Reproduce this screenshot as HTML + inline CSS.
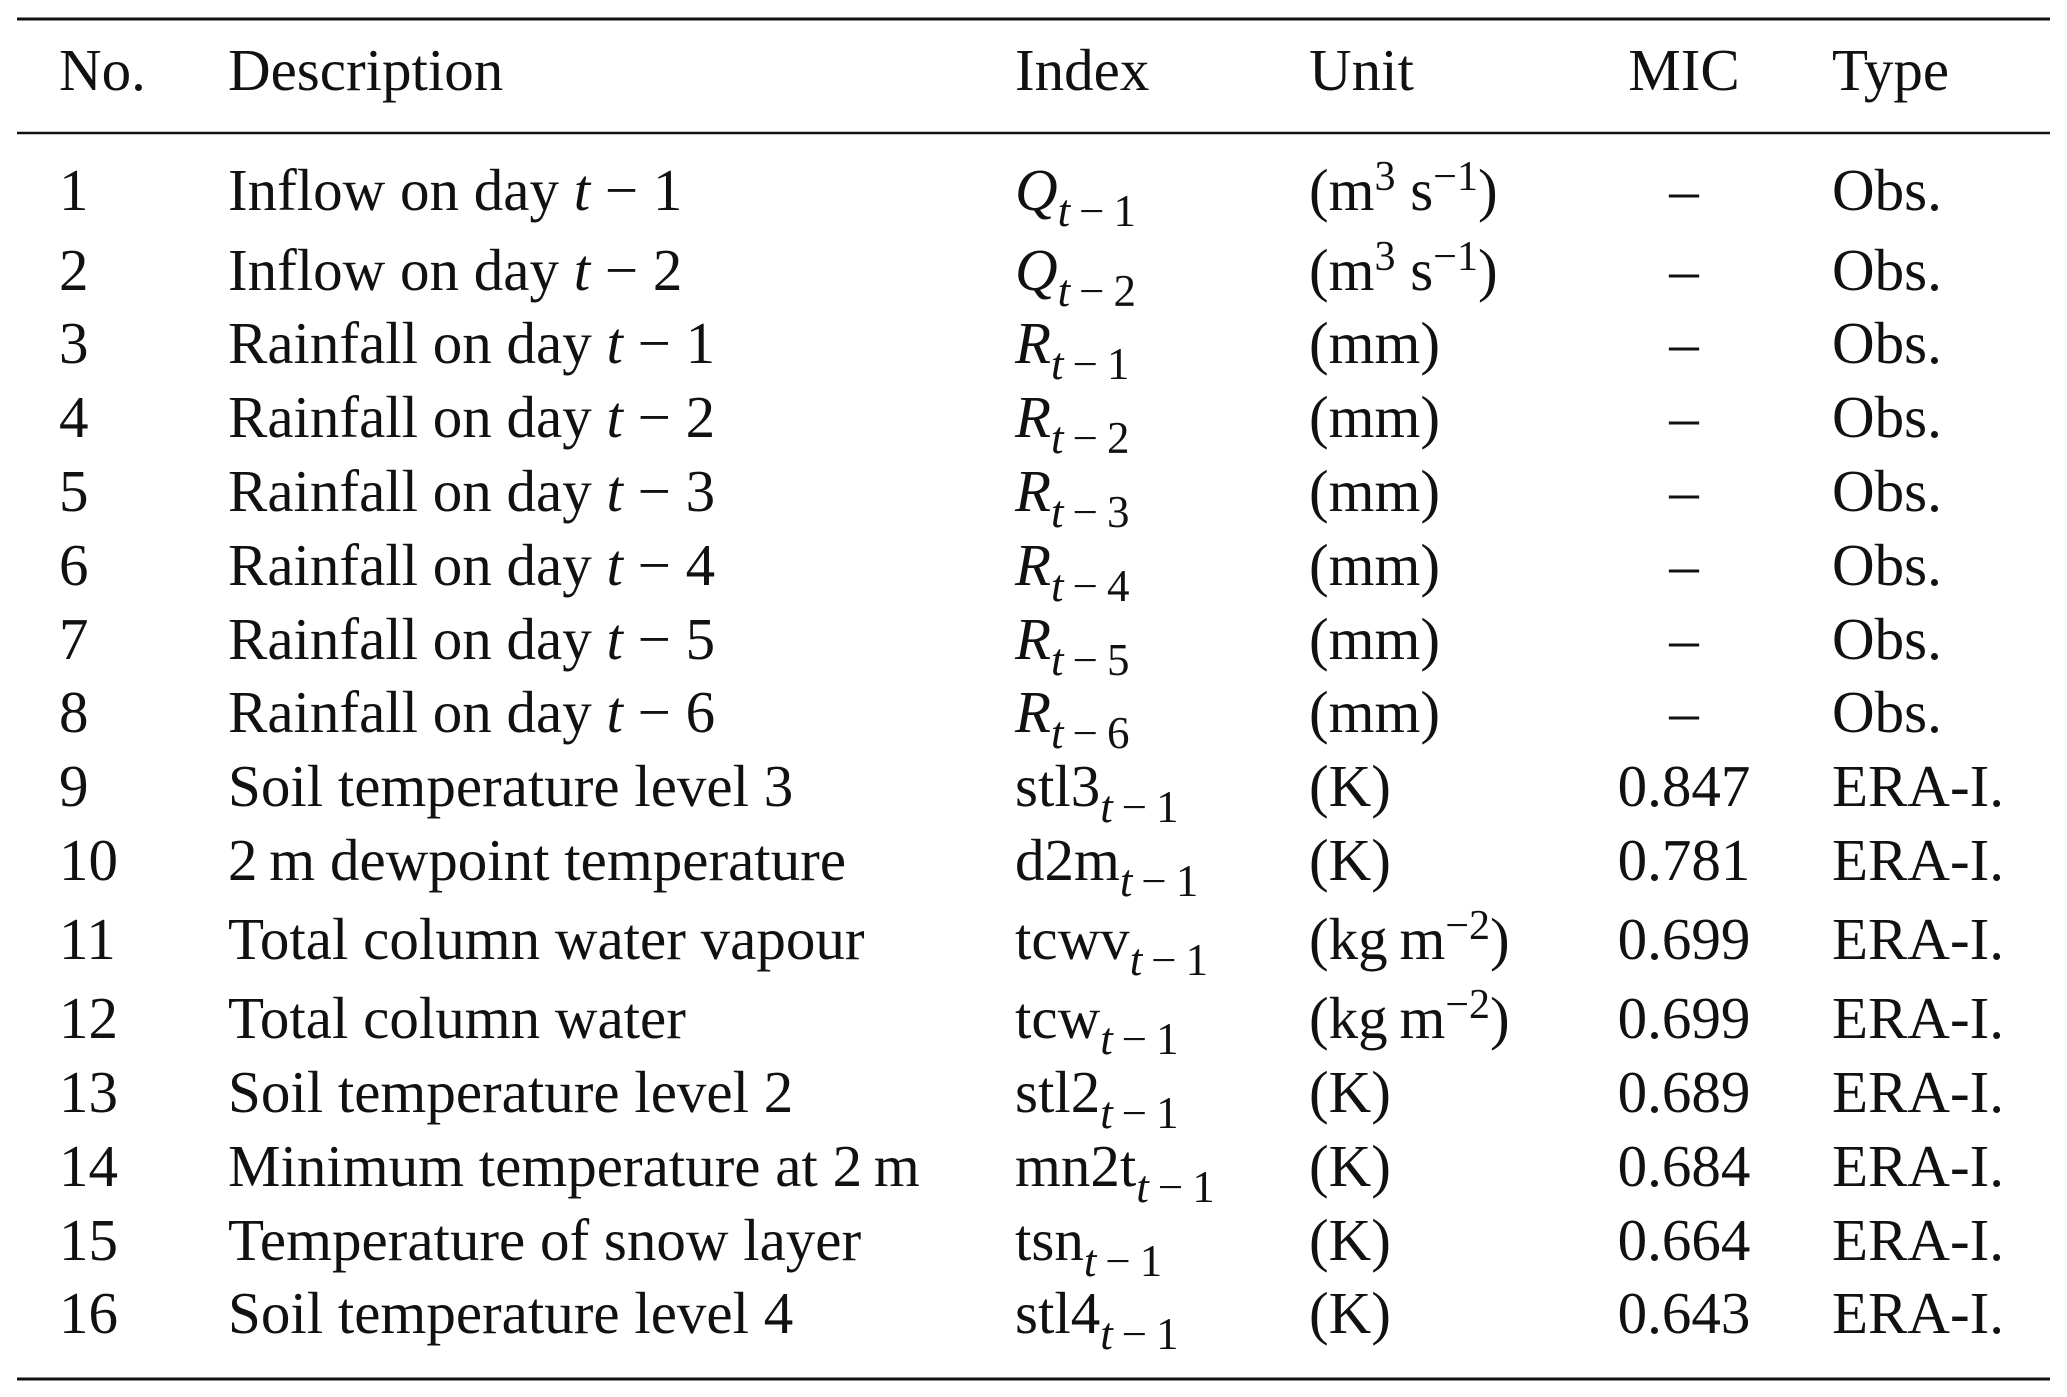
<!DOCTYPE html>
<html><head><meta charset="utf-8"><style>
html,body{margin:0;padding:0;background:#fff;}
svg{display:block;}
text{font-family:"Liberation Serif",serif;font-size:59px;fill:#111;}
.i{font-style:italic;}
</style></head><body>
<svg width="2067" height="1397" viewBox="0 0 2067 1397">
<line x1="17" y1="19" x2="2050" y2="19" stroke="#111" stroke-width="3"/>
<line x1="17" y1="133" x2="2050" y2="133" stroke="#111" stroke-width="2.5"/>
<line x1="17" y1="1379" x2="2050" y2="1379" stroke="#111" stroke-width="3"/>
<g>
<text x="59" y="90">No.</text>
<text x="228" y="90">Description</text>
<text x="1015" y="90">Index</text>
<text x="1309" y="90">Unit</text>
<text x="1684" y="90" text-anchor="middle">MIC</text>
<text x="1832" y="90">Type</text>
</g>
<g id="rows"></g>
</svg>
<script>
const nums=["1","2","3","4","5","6","7","8","9","10","11","12","13","14","15","16"];
const descs=["Inflow on day |1","Inflow on day |2","Rainfall on day |1","Rainfall on day |2","Rainfall on day |3","Rainfall on day |4","Rainfall on day |5","Rainfall on day |6","Soil temperature level 3","2\u2009m dewpoint temperature","Total column water vapour","Total column water","Soil temperature level 2","Minimum temperature at 2\u2009m","Temperature of snow layer","Soil temperature level 4"];
const idxBase=["Q","Q","R","R","R","R","R","R","stl3","d2m","tcwv","tcw","stl2","mn2t","tsn","stl4"];
const idxLag=["1","2","1","2","3","4","5","6","1","1","1","1","1","1","1","1"];
const units=["m3","m3","(mm)","(mm)","(mm)","(mm)","(mm)","(mm)","(K)","(K)","kg","kg","(K)","(K)","(K)","(K)"];
const mics=["–","–","–","–","–","–","–","–","0.847","0.781","0.699","0.699","0.689","0.684","0.664","0.643"];
const types=["Obs.","Obs.","Obs.","Obs.","Obs.","Obs.","Obs.","Obs.","ERA-I.","ERA-I.","ERA-I.","ERA-I.","ERA-I.","ERA-I.","ERA-I.","ERA-I."];
const baselines=[210,290,363,437,511,585,659,732,806,880,959,1038,1112,1186,1260,1333];
const NS="http://www.w3.org/2000/svg";
const g=document.getElementById('rows');
function mk(x,y,html,anchor){const t=document.createElementNS(NS,'text');t.setAttribute('x',x);t.setAttribute('y',y);if(anchor)t.setAttribute('text-anchor',anchor);t.innerHTML=html;g.appendChild(t);return t;}
const sub=(s)=>`<tspan dy="16" font-size="45"><tspan class="i">t</tspan>\u2009\u2212\u2009${s}</tspan>`;
nums.forEach((n,i)=>{
 const y=baselines[i];
 let t=mk(59,y,n);
 
 
 let d=descs[i];
 let dh=d.includes('|')?d.split('|')[0]+'<tspan class="i">t</tspan> \u2212 '+d.split('|')[1]:d;
 t=mk(228,y,dh);
 
 
 const b=idxBase[i];
 const bh=(b==='Q'||b==='R')?`<tspan class="i">${b}</tspan>`:b;
 t=mk(1015,y,bh+sub(idxLag[i]));
 
 
 let u=units[i];
 if(u==='m3')u='(m<tspan dy="-20" font-size="42">3</tspan><tspan dy="20"> s</tspan><tspan dy="-20" font-size="42">\u22121</tspan><tspan dy="20">)</tspan>';
 else if(u==='kg')u='(kg\u2009m<tspan dy="-20" font-size="42">\u22122</tspan><tspan dy="20">)</tspan>';
 t=mk(1309,y,u);
 
 
 t=mk(1684,y,mics[i],'middle');
 
 
 t=mk(1832,y,types[i]);
 
 
});
</script>
</body></html>
